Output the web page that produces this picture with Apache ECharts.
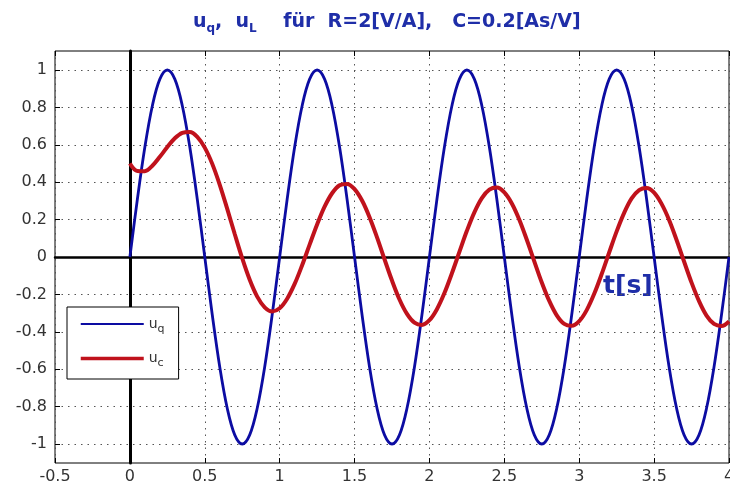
<!DOCTYPE html>
<html><head><meta charset="utf-8">
<script src="https://cdn.jsdelivr.net/npm/echarts@6/dist/echarts.min.js"></script>
<style>html,body{margin:0;padding:0;background:#fff;overflow:hidden}#c{width:730px;height:485px}</style>
</head><body><div id="c"></div>
<script>
var tValues = [0,0.05,0.1,0.15,0.2,0.25,0.3,0.35,0.4,0.45,0.5,0.55,0.6,0.65,0.7,0.75,0.8,0.85,0.9,0.95,
1,1.05,1.1,1.15,1.2,1.25,1.3,1.35,1.4,1.45,1.5,1.55,1.6,1.65,1.7,1.75,1.8,1.85,1.9,1.95,
2,2.05,2.1,2.15,2.2,2.25,2.3,2.35,2.4,2.45,2.5,2.55,2.6,2.65,2.7,2.75,2.8,2.85,2.9,2.95,
3,3.05,3.1,3.15,3.2,3.25,3.3,3.35,3.4,3.45,3.5,3.55,3.6,3.65,3.7,3.75,3.8,3.85,3.9,3.95,4];
var uq = [0,0.309,0.588,0.809,0.951,1,0.951,0.809,0.588,0.309,0,-0.309,-0.588,-0.809,-0.951,-1,-0.951,-0.809,-0.588,-0.309,
0,0.309,0.588,0.809,0.951,1,0.951,0.809,0.588,0.309,0,-0.309,-0.588,-0.809,-0.951,-1,-0.951,-0.809,-0.588,-0.309,
0,0.309,0.588,0.809,0.951,1,0.951,0.809,0.588,0.309,0,-0.309,-0.588,-0.809,-0.951,-1,-0.951,-0.809,-0.588,-0.309,
0,0.309,0.588,0.809,0.951,1,0.951,0.809,0.588,0.309,0,-0.309,-0.588,-0.809,-0.951,-1,-0.951,-0.809,-0.588,-0.309,0];
var uc = [0.500,0.460,0.459,0.488,0.536,0.588,0.635,0.664,0.669,0.643,0.585,0.498,0.386,0.257,0.123,-0.007,-0.122,-0.212,-0.269,-0.291,
-0.274,-0.223,-0.144,-0.044,0.066,0.174,0.269,0.341,0.384,0.391,0.363,0.302,0.213,0.105,-0.012,-0.126,-0.227,-0.304,-0.351,-0.363,
-0.338,-0.279,-0.193,-0.087,0.027,0.140,0.239,0.315,0.360,0.371,0.345,0.286,0.199,0.092,-0.023,-0.136,-0.235,-0.312,-0.358,-0.368,
-0.343,-0.284,-0.197,-0.091,0.024,0.137,0.236,0.313,0.358,0.369,0.344,0.284,0.198,0.091,-0.024,-0.137,-0.236,-0.313,-0.358,-0.369,-0.344];
var xTicks = {min:-0.5, max:4, interval:0.5};
var yTicks = {min:-1, max:1, interval:0.2};
var seriesNames = ['u_q','u_c'];

function pairs(t, v){ return t.map(function(x,i){ return [x, v[i]]; }); }

var font = 'DejaVu Sans, Verdana, sans-serif';
var blue = '#0c0ca2', red = '#c0121c', titleBlue = '#1f2ea8';
var dotted = {color:'#555', width:1, type:[1.5,5]};
var chart = echarts.init(document.getElementById('c'), null, {renderer:'canvas'});
chart.setOption({
  animation:false,
  backgroundColor:'#fff',
  title:{
    text:'{u|u}{s|q}{u|,  u}{s|L}{u|    für  R=2[V/A],   C=0.2[As/V]}',
    left:188, top:5,
    textStyle:{rich:{
      u:{fontFamily:font, fontSize:19, fontWeight:'bold', color:titleBlue},
      s:{fontFamily:font, fontSize:12, fontWeight:'bold', color:titleBlue, padding:[13,0,0,0]}
    }}
  },
  legend:{
    orient:'vertical', left:67, top:307,
    itemWidth:63, itemHeight:14, itemGap:17,
    padding:[10,14,10,12],
    backgroundColor:'#fff', borderColor:'#000', borderWidth:1, borderRadius:0,
    data:[{name:seriesNames[0], lineStyle:{color:blue, width:2.2}, itemStyle:{opacity:0}},
          {name:seriesNames[1], lineStyle:{color:red, width:3.5}, itemStyle:{opacity:0}}],
    formatter:function(n){ var p=n.split('_'); return '{a|'+p[0]+'}{b|'+p[1]+'}'; },
    textStyle:{rich:{
      a:{fontFamily:font, fontSize:14, color:'#333'},
      b:{fontFamily:font, fontSize:11, color:'#333', padding:[10,0,0,0]}
    }}
  },
  graphic:[{type:'text', left:603, top:274, style:{text:'t[s]', font:'bold 25px '+font, fill:titleBlue}}],
  grid:[
    {left:55, right:1, top:51, bottom:22, outerBoundsMode:'none', containLabel:false, show:true, borderColor:'#000', borderWidth:1, backgroundColor:'transparent'},
    {left:55, right:1, top:70, bottom:41, outerBoundsMode:'none', containLabel:false, show:false}
  ],
  xAxis:[
    {gridIndex:0, type:'value', position:'bottom', min:xTicks.min, max:xTicks.max, interval:xTicks.interval,
     axisLine:{show:false, onZero:false},
     axisTick:{show:true, inside:true, length:5, lineStyle:{color:'#000'}},
     axisLabel:{show:true, margin:6, showMinLabel:true, showMaxLabel:true, hideOverlap:false, color:'#333', fontFamily:font, fontSize:16},
     splitLine:{show:true, lineStyle:dotted}},
    {gridIndex:0, type:'value', position:'top', min:xTicks.min, max:xTicks.max, interval:xTicks.interval,
     axisLine:{show:false, onZero:false},
     axisTick:{show:true, inside:true, length:5, lineStyle:{color:'#000'}},
     axisLabel:{show:false}, splitLine:{show:false}},
    {gridIndex:1, type:'value', min:xTicks.min, max:xTicks.max, interval:xTicks.interval,
     axisLine:{show:true, onZero:true, lineStyle:{color:'#000', width:2.5}},
     axisTick:{show:false}, axisLabel:{show:false}, splitLine:{show:false}}
  ],
  yAxis:[
    {gridIndex:0, type:'value', min:-1.1, max:1.1,
     axisLine:{show:true, onZero:true, lineStyle:{color:'#000', width:3}},
     axisTick:{show:false}, axisLabel:{show:false}, splitLine:{show:false}},
    {gridIndex:1, type:'value', position:'left', min:yTicks.min, max:yTicks.max, interval:yTicks.interval,
     axisLine:{show:false, onZero:false},
     axisTick:{show:true, inside:true, length:5, lineStyle:{color:'#000'}},
     axisLabel:{show:true, margin:8, color:'#333', fontFamily:font, fontSize:16},
     splitLine:{show:true, lineStyle:dotted}}
  ],
  series:[
    {name:seriesNames[0], type:'line', xAxisIndex:2, yAxisIndex:1, data:pairs(tValues, uq),
     smooth:0.35, symbol:'none', clip:false, lineStyle:{color:blue, width:2.8}, itemStyle:{color:blue}, z:3},
    {name:seriesNames[1], type:'line', xAxisIndex:2, yAxisIndex:1, data:pairs(tValues, uc),
     smooth:0.35, symbol:'none', clip:false, lineStyle:{color:red, width:4}, itemStyle:{color:red}, z:4}
  ]
});
</script></body></html>
